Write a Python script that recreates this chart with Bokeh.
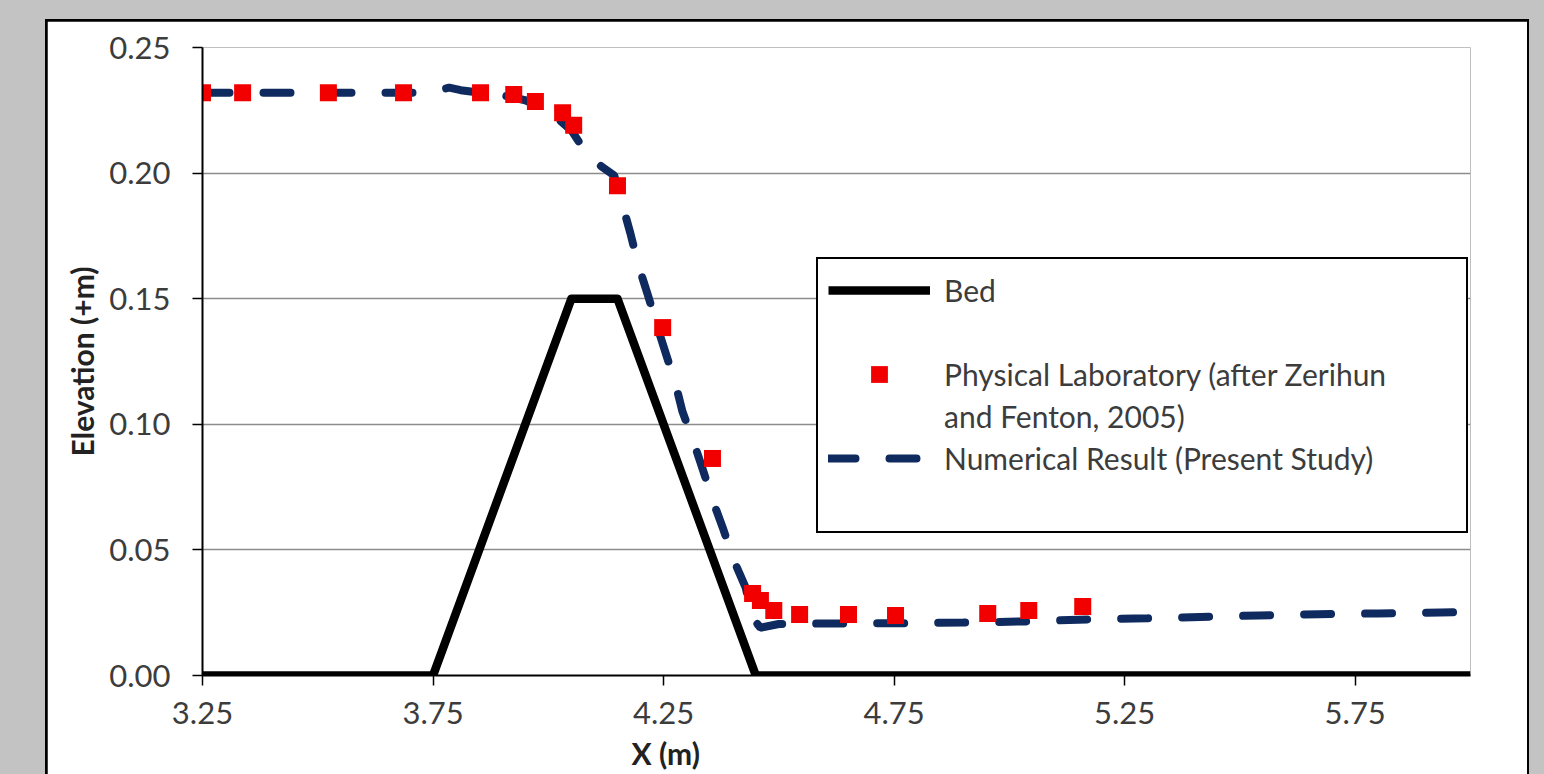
from bokeh.plotting import figure
from bokeh.models import Range1d, FixedTicker, NumeralTickFormatter, Legend, LegendItem, Title
from bokeh.layouts import column
from bokeh.embed import file_html
from bokeh.resources import INLINE

# ---------------- data ----------------
x_ticks = [3.25, 3.75, 4.25, 4.75, 5.25, 5.75]
y_ticks = [0.0, 0.05, 0.10, 0.15, 0.20, 0.25]

bed_x = [3.25, 3.75, 4.05, 4.15, 4.45, 6.0]
bed_y = [0.0, 0.0, 0.15, 0.15, 0.0, 0.0]

lab_x = [3.25, 3.337, 3.523, 3.686, 3.853, 3.925, 3.972, 4.031, 4.055, 4.150,
         4.248, 4.356, 4.443, 4.460, 4.489, 4.545, 4.651, 4.753, 4.953, 5.042, 5.159]
lab_y = [0.232, 0.232, 0.232, 0.232, 0.232, 0.2313, 0.2285, 0.224, 0.219, 0.195,
         0.1385, 0.0864, 0.0326, 0.0299, 0.0259, 0.0243, 0.0243, 0.0239, 0.0247, 0.0259, 0.0275]

num_x = [3.25, 3.35, 3.45, 3.55, 3.65, 3.72, 3.76, 3.785, 3.81, 3.85, 3.90, 3.95,
         4.00, 4.05, 4.09, 4.12, 4.143, 4.163, 4.178, 4.196, 4.215, 4.243, 4.276,
         4.291, 4.315, 4.335, 4.358, 4.378, 4.402, 4.428, 4.443, 4.46, 4.50, 4.60,
         4.75, 4.90, 5.03, 5.17, 5.30, 5.37, 5.54, 5.67, 5.80, 5.935, 6.0]
num_y = [0.232, 0.232, 0.232, 0.232, 0.232, 0.232, 0.233, 0.234, 0.233, 0.232, 0.231, 0.229,
         0.225, 0.217, 0.206, 0.202, 0.199, 0.186, 0.176, 0.163, 0.152, 0.135, 0.116,
         0.105, 0.093, 0.082, 0.069, 0.059, 0.046, 0.035, 0.023, 0.019, 0.0205, 0.0207,
         0.0208, 0.0211, 0.0215, 0.0223, 0.0228, 0.0231, 0.0239, 0.0244, 0.0247, 0.0251, 0.0253]

x_title = "X (m)"
y_title = "Elevation (+m)"

FONT = "Lato"

p = figure(frame_width=1268, frame_height=628,
           x_range=Range1d(3.25, 6.0), y_range=Range1d(0, 0.25),
           output_backend="svg", toolbar_location=None,
           min_border_left=155, min_border_top=26, min_border_right=57, min_border_bottom=100,
           border_fill_color="white", background_fill_color="white",
           outline_line_color=None)

# grid
p.xgrid.grid_line_color = None
p.ygrid.grid_line_color = "#8c8c8c"
p.ygrid.grid_line_width = 1.5
p.ygrid.ticker = FixedTicker(ticks=y_ticks)

# axes
p.xaxis.ticker = FixedTicker(ticks=x_ticks)
p.yaxis.ticker = FixedTicker(ticks=y_ticks)
p.xaxis.formatter = NumeralTickFormatter(format="0.00")
p.yaxis.formatter = NumeralTickFormatter(format="0.00")
for ax in (p.xaxis[0], p.yaxis[0]):
    ax.axis_line_color = "black"
    ax.axis_line_width = 2
    ax.major_tick_line_color = "black"
    ax.major_tick_line_width = 1.5
    ax.major_tick_in = 0
    ax.major_tick_out = 10
    ax.minor_tick_line_color = None
    ax.major_label_text_font = FONT
    ax.major_label_text_font_size = "31px"
    ax.major_label_text_color = "#3c3c3c"
    ax.axis_label_text_font = FONT
    ax.axis_label_text_font_style = "bold"
    ax.axis_label_text_font_size = "30px"
    ax.axis_label_text_color = "#222222"

p.yaxis.axis_label = y_title
p.xaxis.major_label_standoff = 16
p.yaxis.major_label_standoff = 22
p.yaxis.axis_label_standoff = 6

# x-axis title: in the original it sits under the 4.25 tick, not centred
p.add_layout(Title(text=x_title, align="left", offset=429, standoff=12,
                   text_font=FONT, text_font_style="bold", text_font_size="30px",
                   text_color="#222222"), "below")

# series
r_bed = p.line(bed_x, bed_y, line_color="black", line_width=8.5, line_join="round")
r_num = p.line(num_x, num_y, line_color="#0e2a5e", line_width=8,
               line_dash="27 34", line_cap="round")
r_lab = p.scatter(lab_x, lab_y, marker="square", size=17,
                  fill_color="#f20000", line_color=None)

legend = Legend(items=[
    LegendItem(label="Bed", renderers=[r_bed]),
    LegendItem(label=" ", renderers=[]),
    LegendItem(label="Physical Laboratory (after Zerihun", renderers=[r_lab]),
    LegendItem(label="and Fenton, 2005)", renderers=[]),
    LegendItem(label="Numerical Result (Present Study)", renderers=[r_num]),
    LegendItem(label=" ", renderers=[]),
], location=(614, 142))
legend.padding = 10
legend.spacing = 0
legend.margin = 0
legend.glyph_width = 102
legend.glyph_height = 42
legend.label_height = 42
legend.label_width = 512
legend.label_standoff = 14
legend.label_text_font = FONT
legend.label_text_font_size = "30px"
legend.label_text_color = "#3c3c3c"
legend.border_line_color = "black"
legend.border_line_width = 2.5
legend.border_line_alpha = 1.0
legend.background_fill_color = "white"
legend.background_fill_alpha = 1.0
p.add_layout(legend, "center")

p.margin = (2, 2, 0, 2)
inner = column(p, styles={"background-color": "black"})
inner.margin = (19, 0, 0, 45)
outer = column(inner, width=1544, height=774, sizing_mode="fixed",
               styles={"background-color": "#c3c3c3", "overflow": "hidden"})

open("out.html", "w").write(file_html(outer, INLINE))
